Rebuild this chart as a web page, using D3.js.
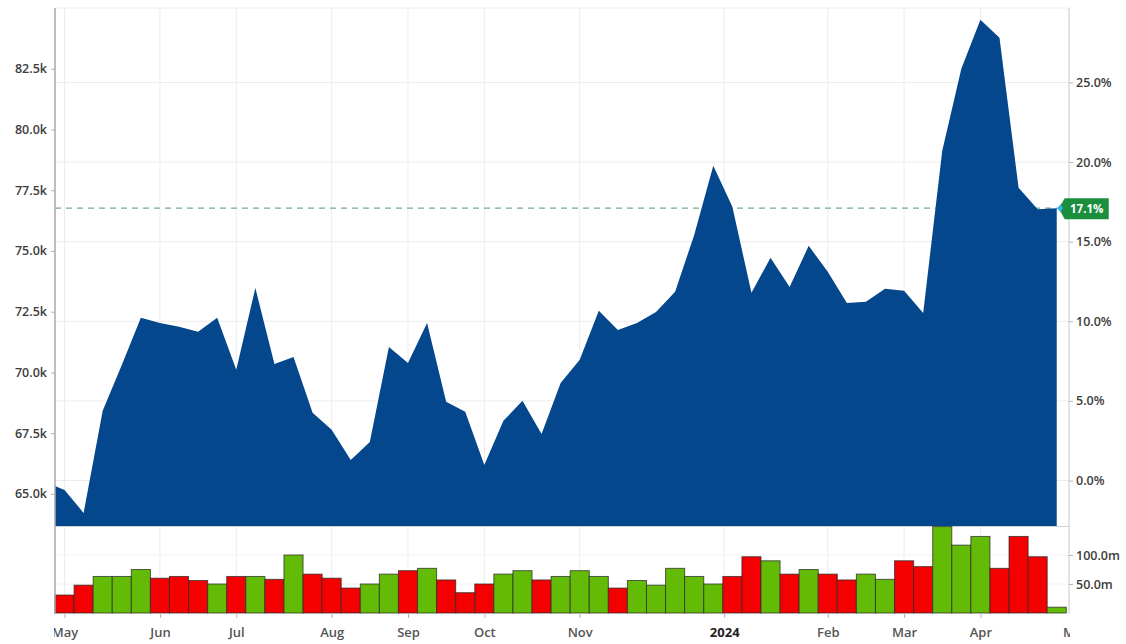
<!DOCTYPE html>
<html lang="en">
<head>
<meta charset="utf-8">
<script src="https://d3js.org/d3.v7.min.js"></script>
<style>
  body { margin: 0; background: #fff; }
  svg { display: block; font-family: "Open Sans", sans-serif; }
</style>
</head>
<body>
<svg id="chart" width="1126" height="644"></svg>
<script>
// weekly closes in thousands, the first one is the week before the window (Apr 24 2023)
const firstWeek = new Date(2023, 3, 24);
const closes = [65.49,
  65.16, 64.22, 68.42, 70.31, 72.25, 72.04, 71.88, 71.67, 72.25, 70.11,
  73.48, 70.35, 70.64, 68.34, 67.64, 66.40, 67.14, 71.05, 70.39, 72.04,
  68.79, 68.38, 66.19, 68.01, 68.83, 67.47, 69.57, 70.52, 72.54, 71.75,
  72.04, 72.49, 73.32, 75.66, 78.51, 76.82, 73.28, 74.72, 73.52, 75.21,
  74.14, 72.86, 72.91, 73.44, 73.36, 72.45, 79.12, 82.50, 84.52, 83.78,
  77.60, 76.72, 76.76];
// weekly volume in millions (one per week shown, May 1 2023 onwards)
const volumes = [31, 48, 63, 63, 75, 60, 63, 56, 50, 63,
  63, 58, 100, 67, 60, 43, 50, 67, 73, 77,
  57, 35, 50, 67, 73, 57, 63, 73, 63, 43,
  56, 48, 77, 63, 50, 63, 97, 90, 67, 75,
  67, 57, 67, 58, 90, 80, 149, 117, 132, 77,
  132, 97, 10];
const basePrice = 65.55;   // 0% reference
const priceTicks = [65, 67.5, 70, 72.5, 75, 77.5, 80, 82.5];
const pctTicks = [0, 5, 10, 15, 20, 25];
const volTicks = [50, 100];
const tickDates = ["2023-05-01", "2023-06-05", "2023-07-03", "2023-08-07", "2023-09-04", "2023-10-02",
  "2023-11-06", "2023-12-29", "2024-02-05", "2024-03-04", "2024-04-01", "2024-05-06"];
const tickLabels = ["May", "Jun", "Jul", "Aug", "Sep", "Oct", "Nov", "2024", "Feb", "Mar", "Apr", "May"];

const svg = d3.select("#chart");
const plotLeft = 55, plotRight = 1069, plotTop = 8, priceBottom = 526, volBottom = 613;
const day = 864e5;

const weeks = closes.map((c, i) => ({ date: d3.timeWeek.offset(firstWeek, i), close: c, prev: i > 0 ? closes[i - 1] : c }));
const shown = weeks.slice(1).map((d, i) => Object.assign({}, d, { vol: volumes[i] }));
const last = shown[shown.length - 1];

const x = d3.scaleTime()
  .domain([new Date(+shown[0].date - 3.5 * day), new Date(+last.date + 4.5 * day)])
  .range([plotLeft, plotRight]);
const y = d3.scaleLinear().domain([63.68, 85.0]).range([priceBottom, plotTop]);
const yPct = d3.scaleLinear().domain(y.domain().map(v => (v / basePrice - 1) * 100)).range([priceBottom, plotTop]);
const yVol = d3.scaleLinear().domain([0, 150]).range([volBottom, priceBottom]);
const ticks = tickDates.map(d => d3.timeParse("%Y-%m-%d")(d));

const defs = svg.append("defs");
defs.append("clipPath").attr("id", "plot")
  .append("rect").attr("x", plotLeft).attr("y", 0).attr("width", plotRight - plotLeft).attr("height", priceBottom);
defs.append("clipPath").attr("id", "xlab")
  .append("rect").attr("x", plotLeft - 1).attr("y", 600).attr("width", plotRight - plotLeft + 2).attr("height", 44);

// grid
const grid = svg.append("g");
grid.selectAll(".vg").data(ticks.filter(d => x(d) <= plotRight)).enter().append("line")
  .attr("x1", d => x(d)).attr("x2", d => x(d)).attr("y1", plotTop).attr("y2", volBottom)
  .attr("stroke", "#ececec");
grid.selectAll(".hg").data(pctTicks).enter().append("line")
  .attr("x1", plotLeft).attr("x2", plotRight).attr("y1", d => yPct(d)).attr("y2", d => yPct(d))
  .attr("stroke", "#ececec");
grid.selectAll(".vh").data(volTicks).enter().append("line")
  .attr("x1", plotLeft).attr("x2", plotRight).attr("y1", d => yVol(d)).attr("y2", d => yVol(d))
  .attr("stroke", "#f2f2f2");
grid.append("line").attr("x1", plotLeft).attr("x2", plotRight).attr("y1", plotTop).attr("y2", plotTop).attr("stroke", "#eeeeee");
grid.append("line").attr("x1", plotLeft).attr("x2", plotRight).attr("y1", priceBottom + 0.5).attr("y2", priceBottom + 0.5).attr("stroke", "#d0d0d0");

// last price dashed line
svg.append("line")
  .attr("x1", plotLeft).attr("x2", x(last.date)).attr("y1", y(last.close)).attr("y2", y(last.close))
  .attr("stroke", "#73a99c").attr("stroke-width", 1.2).attr("stroke-dasharray", "6,5");

// price area
const area = d3.area().x(d => x(d.date)).y0(priceBottom).y1(d => y(d.close));
svg.append("path").datum(weeks).attr("clip-path", "url(#plot)")
  .attr("d", area).attr("fill", "#04478c");

// volume bars
svg.append("g").selectAll("rect").data(shown).enter().append("rect")
  .attr("x", d => x(new Date(+d.date - 3.5 * day)))
  .attr("width", d => x(new Date(+d.date + 3.5 * day)) - x(new Date(+d.date - 3.5 * day)))
  .attr("y", d => yVol(d.vol))
  .attr("height", d => volBottom - yVol(d.vol))
  .attr("fill", d => d.close >= d.prev ? "#63bb06" : "#f40000")
  .attr("stroke", "#2b2b2b").attr("stroke-opacity", 0.75).attr("stroke-width", 1);

// axes
function styleAxis(g) {
  g.select(".domain").remove();
  g.selectAll(".tick line").attr("stroke", "#b5b5b5");
  g.selectAll("text").attr("fill", "#3d3d3d").attr("font-size", 12.5).attr("font-weight", 600)
    .attr("font-family", "'Open Sans', sans-serif");
}
svg.append("g").attr("transform", `translate(${plotLeft},0)`)
  .call(d3.axisLeft(y).tickValues(priceTicks).tickSize(4).tickPadding(4).tickFormat(d => d.toFixed(1) + "k"))
  .call(styleAxis);
svg.append("g").attr("transform", `translate(${plotRight},0)`)
  .call(d3.axisRight(yPct).tickValues(pctTicks).tickSize(4).tickPadding(3).tickFormat(d => d.toFixed(1) + "%"))
  .call(styleAxis);
svg.append("g").attr("transform", `translate(${plotRight},0)`)
  .call(d3.axisRight(yVol).tickValues(volTicks).tickSize(4).tickPadding(3).tickFormat(d => d.toFixed(1) + "m"))
  .call(styleAxis);
const xg = svg.append("g").attr("clip-path", "url(#xlab)")
  .append("g").attr("transform", `translate(0,${volBottom + 1})`)
  .call(d3.axisBottom(x).tickValues(ticks).tickSize(4).tickPadding(10).tickFormat((d, i) => tickLabels[i]))
  .call(styleAxis);
xg.selectAll("text").attr("font-size", 13).attr("fill", "#555")
  .filter(d => d.getMonth() === 11).attr("fill", "#222").attr("font-weight", 700);

svg.append("line").attr("x1", plotLeft).attr("x2", plotLeft).attr("y1", plotTop).attr("y2", volBottom + 1)
  .attr("stroke", "#a8a8a8").attr("stroke-width", 1.5);
svg.append("line").attr("x1", plotRight).attr("x2", plotRight).attr("y1", plotTop).attr("y2", volBottom + 1)
  .attr("stroke", "#cfcfcf").attr("stroke-width", 1.2);

// last value label
const lx = x(last.date), ly = y(last.close);
const lab = svg.append("g").attr("transform", `translate(${lx},${ly})`);
lab.append("path").attr("d", "M2,0 L8,-10 L52,-10 L52,11 L8,11 Z").attr("fill", "#1b8f3d");
lab.append("path").attr("d", "M0,0 L4,-4 L6,0 L4,4 Z").attr("fill", "#33b5ea");
lab.append("text").attr("x", 30).attr("y", 4.5).attr("text-anchor", "middle")
  .attr("fill", "#fff").attr("font-size", 11.5).attr("font-weight", 700)
  .text(((last.close / basePrice - 1) * 100).toFixed(1) + "%");
</script>
</body>
</html>
